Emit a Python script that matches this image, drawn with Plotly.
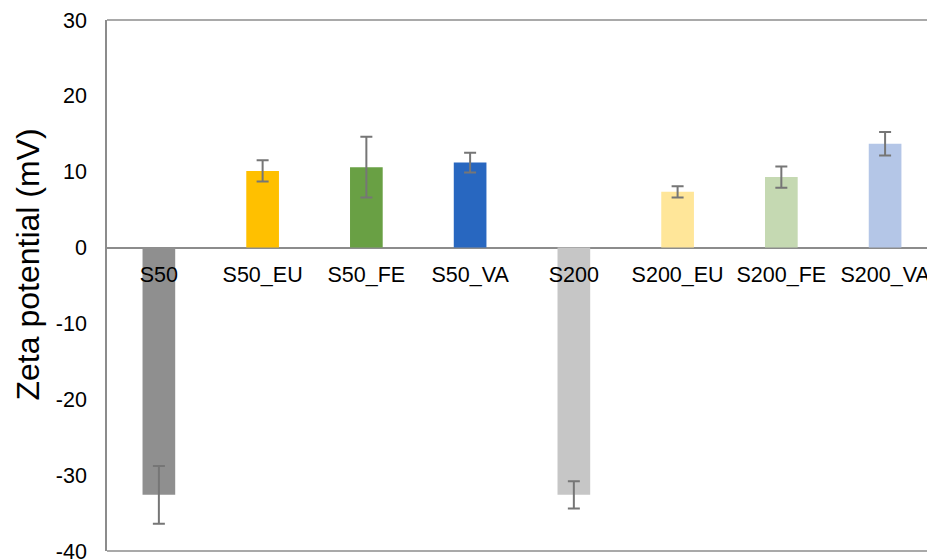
import plotly.graph_objects as go

categories = ["S50", "S50_EU", "S50_FE", "S50_VA", "S200", "S200_EU", "S200_FE", "S200_VA"]
zeta_values = [-32.6, 10.1, 10.6, 11.2, -32.6, 7.35, 9.3, 13.7]
zeta_errors = [3.8, 1.4, 4.0, 1.3, 1.8, 0.75, 1.4, 1.55]
bar_colors = ["#8f8f8f", "#ffc000", "#69a044", "#2867c0",
              "#c6c6c6", "#ffe699", "#c5d9b2", "#b4c6e7"]
y_ticks = [-40, -30, -20, -10, 0, 10, 20, 30]
y_tick_text = ["-40", "-30", "-20", "-10", "0", "10", "20", "30"]

font_family = "Liberation Sans, Arial, sans-serif"
axis_gray = "#8c8c8c"

fig = go.Figure()
fig.add_trace(go.Bar(
    x=categories,
    y=zeta_values,
    width=0.315,
    marker=dict(color=bar_colors, line=dict(width=0)),
    error_y=dict(type="data", array=zeta_errors, visible=True,
                 color="#767676", thickness=2, width=6),
    showlegend=False,
))

fig.update_layout(
    width=927, height=560,
    margin=dict(l=107, r=0, t=20, b=9, autoexpand=False),
    paper_bgcolor="white", plot_bgcolor="white",
    font=dict(family=font_family, color="#000000", size=21),
    xaxis=dict(
        type="category",
        range=[-0.5, 7.404],
        anchor="free", position=4 / 7,
        automargin=False,
        showline=False, showgrid=False, zeroline=False,
        ticks="", ticklabelstandoff=12,
        tickfont=dict(size=21.5, family=font_family, color="#000000"),
    ),
    yaxis=dict(
        range=[-40, 30],
        tickvals=y_ticks,
        ticktext=y_tick_text,
        ticklabeloverflow="allow",
        automargin=False,
        showgrid=False,
        zeroline=True, zerolinecolor=axis_gray, zerolinewidth=1.6,
        showline=True, linecolor=axis_gray, linewidth=1.6,
        ticks="", ticklabelstandoff=14,
        tickfont=dict(size=21.5, family=font_family, color="#000000"),
    ),
    shapes=[
        dict(type="line", xref="paper", yref="paper", x0=0, x1=1, y0=1, y1=1,
             line=dict(color=axis_gray, width=1.6)),
        dict(type="line", xref="paper", yref="paper", x0=0, x1=1, y0=0, y1=0,
             line=dict(color=axis_gray, width=1.6)),
    ],
    annotations=[
        dict(text="Zeta potential (mV)", xref="paper", yref="paper",
             x=(27.5 - 107) / 820, y=(551 - 265) / 531,
             xanchor="center", yanchor="middle", textangle=-90,
             showarrow=False, font=dict(size=32, family=font_family, color="#000000")),
    ],
)

fig.write_html("out.html")
